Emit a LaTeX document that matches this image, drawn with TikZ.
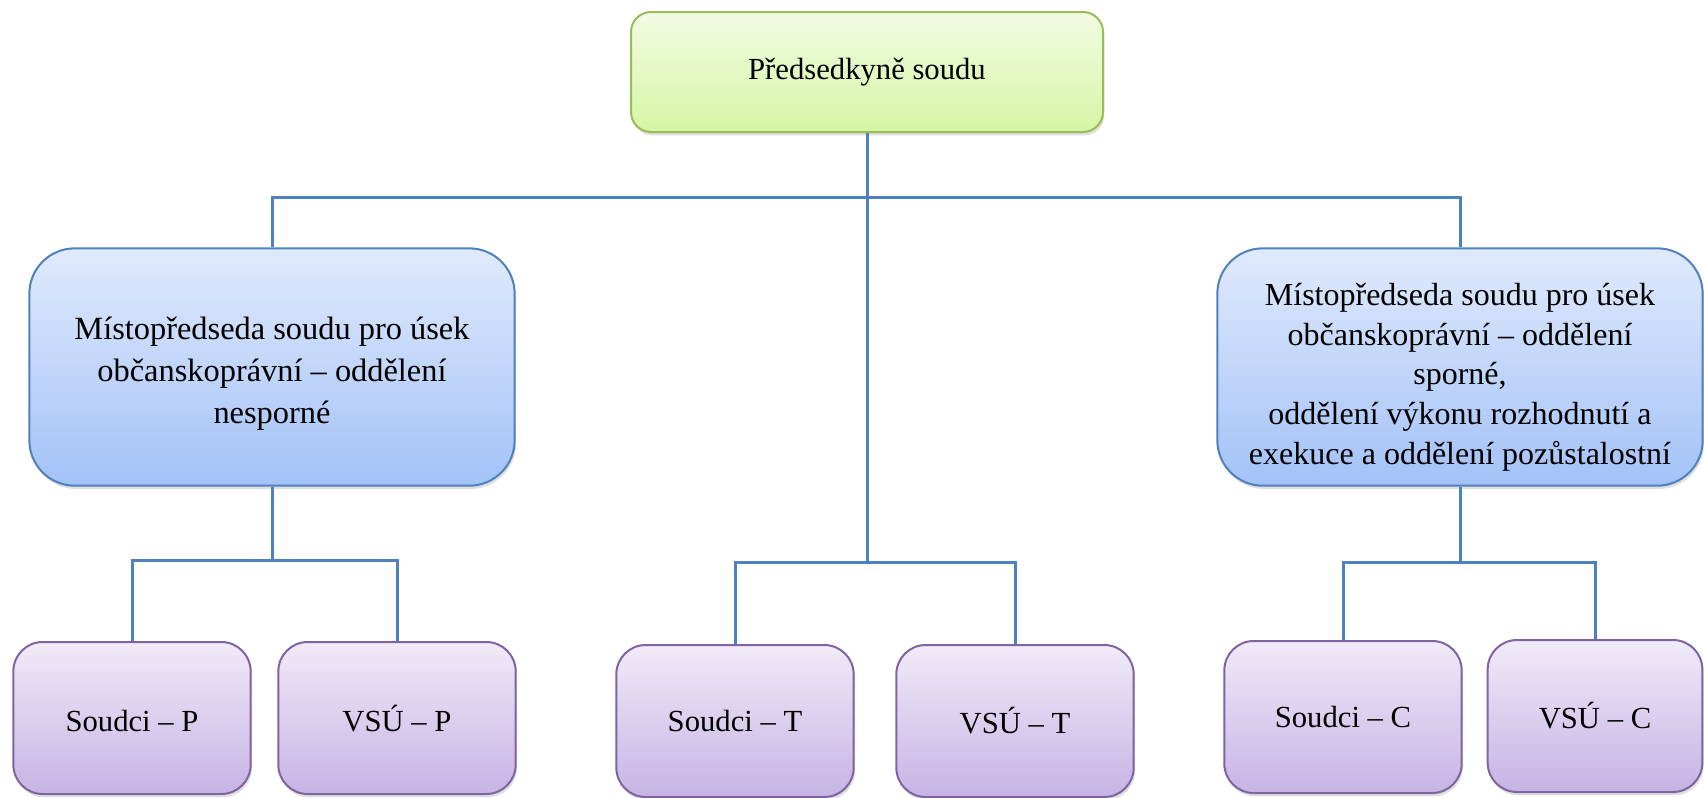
\documentclass[tikz,border=0pt]{standalone}
\usepackage{fontspec}
\setmainfont{Liberation Serif}
\usetikzlibrary{shadows}

\definecolor{headline}{RGB}{155,187,89}
\definecolor{headtop}{RGB}{242,251,228}
\definecolor{headbot}{RGB}{214,245,164}
\definecolor{deputyline}{RGB}{79,129,189}
\definecolor{deputytop}{RGB}{224,234,252}
\definecolor{deputybot}{RGB}{163,194,247}
\definecolor{unitline}{RGB}{128,100,162}
\definecolor{unittop}{RGB}{240,234,248}
\definecolor{unitbot}{RGB}{198,180,228}
\definecolor{connblue}{RGB}{79,129,189}

\tikzset{
  headbox/.style={draw=headline, line width=1.5pt, rounded corners=15pt,
    top color=headtop, bottom color=headbot, minimum width=354pt, minimum height=90pt,
    align=center, font=\fontsize{23}{30}\selectfont,
    drop shadow={opacity=0.25, shadow xshift=1pt, shadow yshift=-2.5pt}},
  deputybox/.style={draw=deputyline, line width=1.5pt, rounded corners=34pt,
    top color=deputytop, bottom color=deputybot, minimum width=364pt, minimum height=178pt,
    align=center, font=\fontsize{24.3}{31.8}\selectfont,
    drop shadow={opacity=0.25, shadow xshift=1pt, shadow yshift=-2.5pt}},
  unitbox/.style={draw=unitline, line width=1.5pt, rounded corners=22pt,
    top color=unittop, bottom color=unitbot, minimum width=178pt, minimum height=114pt,
    align=center, font=\fontsize{23}{30}\selectfont,
    drop shadow={opacity=0.25, shadow xshift=1pt, shadow yshift=-2.5pt}},
  conn/.style={draw=connblue, line width=2.25pt}
}
% strut that pushes a text block down inside its box
\newcommand{\pushdown}[1]{\rule{0pt}{#1}}

\begin{document}
\begin{tikzpicture}[x=0.75pt,y=0.75pt,yscale=-1,xscale=1]
\useasboundingbox (0,0) rectangle (1704,797);

% head of the court
\node[headbox] (head) at (867,72) {Předsedkyně soudu};

% deputies
\node[deputybox] (ldep) at (272,367) {\pushdown{27pt}Místopředseda soudu pro úsek\\občanskoprávní – oddělení\\nesporné};
\node[deputybox, font=\fontsize{24}{29.8}\selectfont] (rdep) at (1460,367) {\pushdown{32pt}Místopředseda soudu pro úsek\\občanskoprávní – oddělení\\sporné,\\oddělení výkonu rozhodnutí a\\exekuce a oddělení pozůstalostní};

% units
\node[unitbox] (judgesP) at (132,718) {\pushdown{20pt}Soudci – P};
\node[unitbox] (vsuP) at (397,718) {\pushdown{20pt}VSÚ – P};
\node[unitbox] (judgesT) at (735,721) {Soudci – T};
\node[unitbox] (vsuT) at (1015,721) {VSÚ – T};
\node[unitbox] (judgesC) at (1343,717) {Soudci – C};
\node[unitbox, minimum width=161pt] (vsuC) at (1595,716) {VSÚ – C};

% bar heights
\coordinate (topbar) at (0,197);
\coordinate (lbar) at (0,560);
\coordinate (mbar) at (0,562);
\coordinate (rbar) at (0,562);

% connectors
\draw[conn] (head.south) -- (head.south |- mbar);
\draw[conn] (ldep.north) -- (ldep.north |- topbar) -- (rdep.north |- topbar) -- (rdep.north);
\draw[conn] (ldep.south) -- (ldep.south |- lbar);
\draw[conn] (judgesP.north) -- (judgesP.north |- lbar) -- (vsuP.north |- lbar) -- (vsuP.north);
\draw[conn] (judgesT.north) -- (judgesT.north |- mbar) -- (vsuT.north |- mbar) -- (vsuT.north);
\draw[conn] (rdep.south) -- (rdep.south |- rbar);
\draw[conn] (judgesC.north) -- (judgesC.north |- rbar) -- (vsuC.north |- rbar) -- (vsuC.north);

\end{tikzpicture}
\end{document}
